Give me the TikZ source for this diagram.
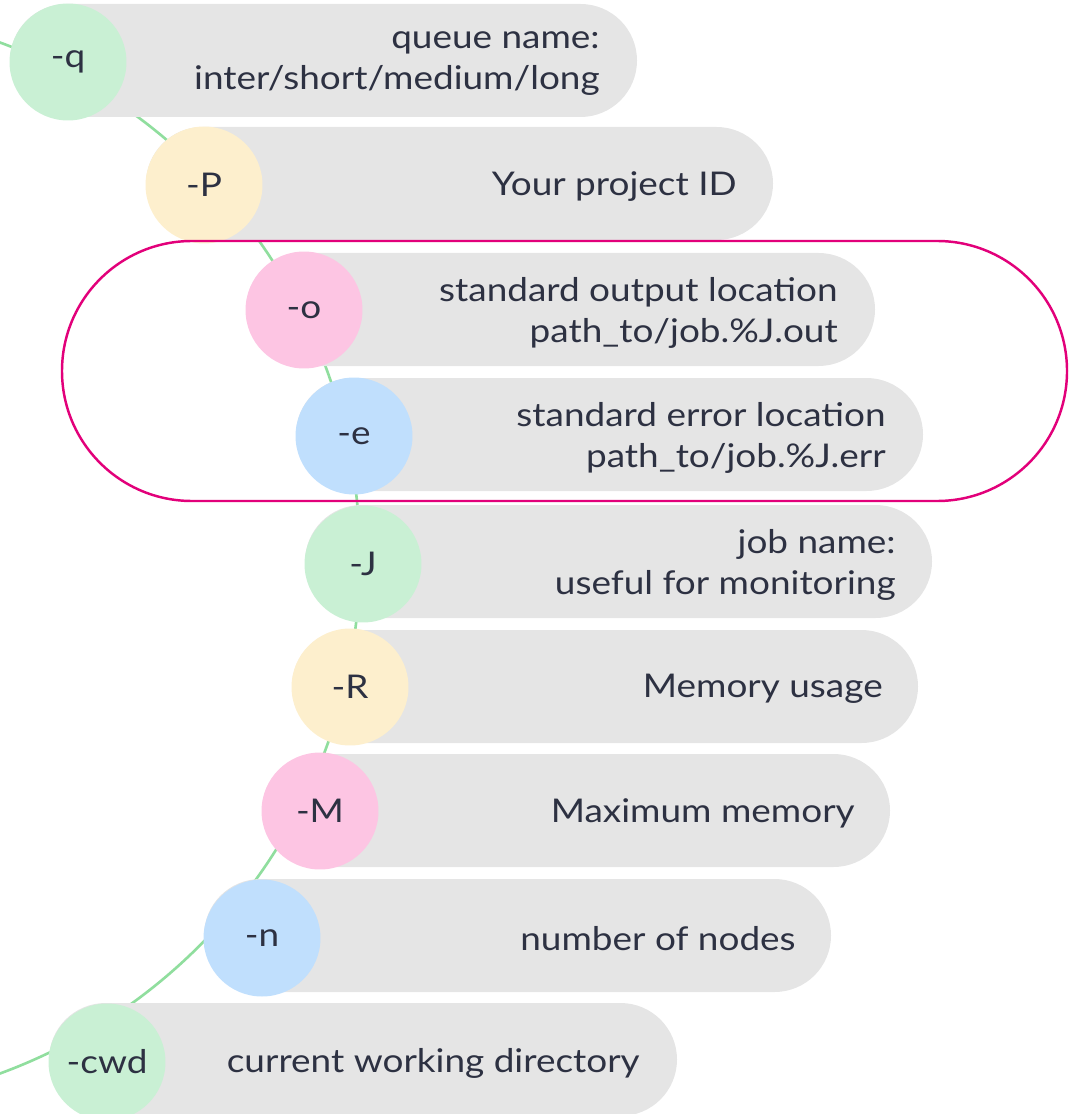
\documentclass[tikz,border=0pt]{standalone}
\usepackage{fontspec}
\setmainfont{Lato}[FakeStretch=1.13]
\usepackage{tikz}
\usetikzlibrary{positioning, backgrounds}
\usepackage{xcolor}
\definecolor{MapGreen}{HTML}{C9F0D4}
\definecolor{MapYellow}{HTML}{FDEFCD}
\definecolor{MapPink}{HTML}{FDC5E3}
\definecolor{MapBlue}{HTML}{C0DFFD}
\definecolor{MapGrey}{HTML}{E5E5E5}
\definecolor{MapInk}{HTML}{2D3142}
\definecolor{MapMagenta}{HTML}{E2007A}
\definecolor{MapBranch}{HTML}{90DE9E}
\tikzset{
    % Option circles
    flag/.style={
        circle,
        draw=none,
        minimum size=2.34cm,
        inner sep=0pt,
        text=MapInk,
        font=\fontsize{18.6pt}{23pt}\selectfont
    },
    % Grey pill behind each option
    pillbg/.style={
        fill=MapGrey,
        rounded corners=1.13cm
    },
    % Description text
    note/.style={
        anchor=east,
        align=right,
        inner sep=0pt,
        text=MapInk,
        font=\fontsize{18.6pt}{23.3pt}\selectfont
    },
    % Branch line
    branch/.style={
        draw=MapBranch,
        line width=1.5pt
    },
    % Group frame
    groupframe/.style={
        draw=MapMagenta,
        line width=1.4pt,
        rounded corners=2.6cm
    }
}

\begin{document}
\begin{tikzpicture}[x=0.02cm, y=-0.02cm]
    \useasboundingbox (0,0) rectangle (1068,1114);

    % -q
    \fill[pillbg] (10,4) rectangle (637,117);
    \node[flag, fill=MapGreen] (q) at (68,62) {-q};
    \node[note] (qnote) at (600,64) {queue name:\\inter/short/medium/long};

    % -P
    \fill[pillbg] (146,127) rectangle (773,240);
    \node[flag, fill=MapYellow] (P) at (204,185) {-P};
    \node[note] (Pnote) at (737,187) {Your project ID};

    % -o
    \fill[pillbg] (246,253) rectangle (875,366);
    \node[flag, fill=MapPink] (o) at (304,310) {-o};
    \node[note] (onote) at (838,313) {standard output location\\path\_to/job.\%J.out};

    % -e
    \fill[pillbg] (296,378) rectangle (923,491);
    \node[flag, fill=MapBlue] (e) at (354,436) {-e};
    \node[note] (enote) at (886,438) {standard error location\\path\_to/job.\%J.err};

    % -J
    \fill[pillbg] (305,505) rectangle (932,618);
    \node[flag, fill=MapGreen] (J) at (363,564) {-J};
    \node[note] (Jnote) at (896,565) {job name:\\useful for monitoring};

    % -R
    \fill[pillbg] (292,630) rectangle (918,743);
    \node[flag, fill=MapYellow] (R) at (350,687) {-R};
    \node[note] (Rnote) at (883,689) {Memory usage};

    % -M
    \fill[pillbg] (262,754) rectangle (890,867);
    \node[flag, fill=MapPink] (M) at (320,811) {-M};
    \node[note] (Mnote) at (855,813) {Maximum memory};

    % -n
    \fill[pillbg] (204,879) rectangle (831,992);
    \node[flag, fill=MapBlue] (n) at (262,938) {-n};
    \node[note] (nnote) at (796,939) {number of nodes};

    % -cwd
    \fill[pillbg] (49,1003) rectangle (677,1116);
    \node[flag, fill=MapGreen] (cwd) at (107,1062) {-cwd};
    \node[note] (cwdnote) at (640,1063) {current working directory};

    % Branch: one large arc behind all options
    \coordinate (hub) at (-189,558);
    \begin{scope}[on background layer]
        \draw[branch] (hub) circle[radius=10.98cm];
    \end{scope}

    % Output files group
    \draw[groupframe] (62,241) rectangle (1067,501);
\end{tikzpicture}
\end{document}
